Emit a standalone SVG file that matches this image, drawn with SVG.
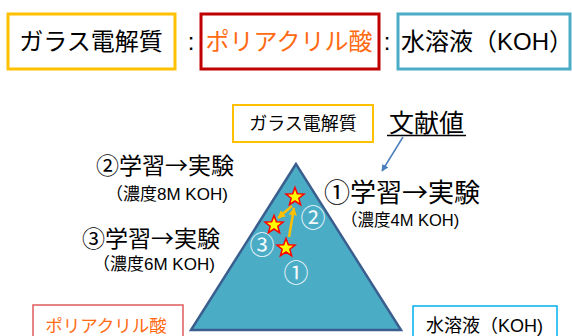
<svg xmlns="http://www.w3.org/2000/svg" width="572" height="336" viewBox="0 0 572 336">
<style>
text{font-family:"Liberation Sans","Noto Sans CJK JP",sans-serif;fill:#000}
.jp{font-family:"Noto Sans CJK JP",sans-serif}
.or{fill:#FF6A13}
.circ{font-family:"Noto Sans CJK JP",sans-serif;fill:#F2FAFD;font-size:25px;text-anchor:middle}
</style>
<defs>
<polygon id="star" points="0,-9.5 2.351,-3.236 9.035,-2.936 3.804,1.236 5.584,7.686 0,4 -5.584,7.686 -3.804,1.236 -9.035,-2.936 -2.351,-3.236" fill="#FFFF00" stroke="#FF0000" stroke-width="1.5" stroke-linejoin="miter"/>
<marker id="ab" viewBox="0 0 10 10" refX="9" refY="5" markerWidth="7" markerHeight="7" orient="auto" markerUnits="userSpaceOnUse"><path d="M0,0 L10,5 L0,10 z" fill="#4A7EBB"/></marker>
<marker id="ag" viewBox="0 0 10 10" refX="9" refY="5" markerWidth="8" markerHeight="8" orient="auto" markerUnits="userSpaceOnUse"><path d="M0,0 L10,5 L0,10 z" fill="#FFC000"/></marker>
</defs>
<rect width="572" height="336" fill="#fff"/>

<g id="top-glass">
<rect x="8" y="14" width="167" height="55" fill="#fff" stroke="#FFC000" stroke-width="3"/>
<text x="91" y="50" font-size="24" text-anchor="middle">ガラス電解質</text>
</g>
<text x="191" y="50" font-size="24" text-anchor="middle">:</text>
<g id="top-paa">
<rect x="201" y="14" width="178" height="55" fill="#fff" stroke="#C00000" stroke-width="3"/>
<text x="289" y="50" font-size="24" text-anchor="middle" class="or">ポリアクリル酸</text>
</g>
<text x="387" y="50" font-size="24" text-anchor="middle">:</text>
<g id="top-koh">
<rect x="398" y="14" width="172" height="55" fill="#fff" stroke="#4BACC6" stroke-width="3"/>
<text x="401" y="50" font-size="24">水溶液（KOH）</text>
</g>

<g id="triangle">
<polygon points="296,164 191,330 401,330" fill="#4BACC6" stroke="#3A5F8F" stroke-width="2.5" stroke-linejoin="miter"/>
<text class="circ" x="313" y="227">②</text>
<text class="circ" x="262" y="254">③</text>
<text class="circ" x="296" y="282">①</text>
</g>

<g id="label-glass">
<rect x="233" y="105" width="140" height="37" fill="#fff" stroke="#FFC000" stroke-width="2"/>
<text x="303" y="130" font-size="18" text-anchor="middle">ガラス電解質</text>
</g>
<g id="label-bunkenchi">
<text x="426.5" y="132" font-size="25" text-anchor="middle">文献値</text>
<line x1="387" y1="135.5" x2="466" y2="135.5" stroke="#000" stroke-width="1.5"/>
</g>
<g id="label-paa">
<rect x="33" y="305" width="150" height="40" fill="#fff" stroke="#DE5B5B" stroke-width="1.5"/>
<text x="106" y="332" font-size="17.5" text-anchor="middle" class="or">ポリアクリル酸</text>
</g>
<g id="label-koh">
<rect x="413" y="306" width="144" height="40" fill="#fff" stroke="#00B0F0" stroke-width="1.5"/>
<text x="426" y="332" font-size="18">水溶液（KOH)</text>
</g>

<g id="step1">
<text x="324" y="202" font-size="26" class="jp">①学習→実験</text>
<text x="341" y="226" font-size="16.5">（濃度4M KOH)</text>
</g>
<g id="step2">
<text x="96" y="174" font-size="23" class="jp">②学習→実験</text>
<text x="106" y="199.5" font-size="17">（濃度8M KOH)</text>
</g>
<g id="step3">
<text x="82" y="247" font-size="23" class="jp">③学習→実験</text>
<text x="93" y="270" font-size="17">（濃度6M KOH)</text>
</g>

<g id="connectors">
<line x1="403" y1="137" x2="382" y2="171" stroke="#4A7EBB" stroke-width="1.5" marker-end="url(#ab)"/>
<line x1="289" y1="237" x2="294" y2="208" stroke="#FFC000" stroke-width="2.5" marker-end="url(#ag)"/>
<line x1="292" y1="206" x2="278" y2="218" stroke="#FFC000" stroke-width="2.5" marker-end="url(#ag)"/>
</g>

<g id="stars">
<use href="#star" x="295" y="197"/>
<use href="#star" x="274" y="225"/>
<use href="#star" x="286" y="248"/>
</g>
</svg>
